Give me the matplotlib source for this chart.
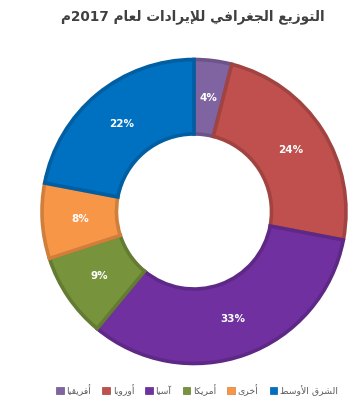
import re
import matplotlib
matplotlib.use("Agg")
import matplotlib.pyplot as plt
import matplotlib.colors as mcolors

# ---- data ----
title = "التوزيع الجغرافي للإيرادات لعام 2017م"
categories = ["أفريقيا", "أوروبا", "آسيا", "أمريكا", "أخرى", "الشرق الأوسط"]
values = [4, 24, 33, 9, 8, 22]
colors = ["#8064A2", "#C0504D", "#7030A0", "#77933C", "#F79646", "#0070C0"]

# ---- minimal Arabic shaping + bidi for display ----
FORMS = {
    '\u0627': (0xFE8D, 0xFE8E, None, None),
    '\u0623': (0xFE83, 0xFE84, None, None),
    '\u0625': (0xFE87, 0xFE88, None, None),
    '\u0622': (0xFE81, 0xFE82, None, None),
    '\u0628': (0xFE8F, 0xFE90, 0xFE91, 0xFE92),
    '\u062A': (0xFE95, 0xFE96, 0xFE97, 0xFE98),
    '\u062C': (0xFE9D, 0xFE9E, 0xFE9F, 0xFEA0),
    '\u062E': (0xFEA5, 0xFEA6, 0xFEA7, 0xFEA8),
    '\u062F': (0xFEA9, 0xFEAA, None, None),
    '\u0631': (0xFEAD, 0xFEAE, None, None),
    '\u0632': (0xFEAF, 0xFEB0, None, None),
    '\u0633': (0xFEB1, 0xFEB2, 0xFEB3, 0xFEB4),
    '\u0634': (0xFEB5, 0xFEB6, 0xFEB7, 0xFEB8),
    '\u0637': (0xFEC1, 0xFEC2, 0xFEC3, 0xFEC4),
    '\u0639': (0xFEC9, 0xFECA, 0xFECB, 0xFECC),
    '\u063A': (0xFECD, 0xFECE, 0xFECF, 0xFED0),
    '\u0641': (0xFED1, 0xFED2, 0xFED3, 0xFED4),
    '\u0642': (0xFED5, 0xFED6, 0xFED7, 0xFED8),
    '\u0643': (0xFED9, 0xFEDA, 0xFEDB, 0xFEDC),
    '\u0644': (0xFEDD, 0xFEDE, 0xFEDF, 0xFEE0),
    '\u0645': (0xFEE1, 0xFEE2, 0xFEE3, 0xFEE4),
    '\u0646': (0xFEE5, 0xFEE6, 0xFEE7, 0xFEE8),
    '\u0647': (0xFEE9, 0xFEEA, 0xFEEB, 0xFEEC),
    '\u0648': (0xFEED, 0xFEEE, None, None),
    '\u0649': (0xFEEF, 0xFEF0, None, None),
    '\u064A': (0xFEF1, 0xFEF2, 0xFEF3, 0xFEF4),
}
LAMALEF = {'\u0627': (0xFEFB, 0xFEFC), '\u0623': (0xFEF7, 0xFEF8),
           '\u0625': (0xFEF9, 0xFEFA), '\u0622': (0xFEF5, 0xFEF6)}


def _dual(c):
    return c in FORMS and FORMS[c][2] is not None


def shape(text):
    toks = []
    i = 0
    while i < len(text):
        c = text[i]
        if c == '\u0644' and i + 1 < len(text) and text[i + 1] in LAMALEF:
            toks.append(('LA', text[i + 1]))
            i += 2
        else:
            toks.append(('C', c))
            i += 1
    out = []
    for k, (kind, c) in enumerate(toks):
        prev = toks[k - 1] if k > 0 else None
        nxt = toks[k + 1] if k + 1 < len(toks) else None
        jp = prev is not None and prev[0] == 'C' and _dual(prev[1]) and (kind == 'LA' or c in FORMS)
        if kind == 'LA':
            out.append(chr(LAMALEF[c][1] if jp else LAMALEF[c][0]))
            continue
        if c not in FORMS:
            out.append(c)
            continue
        jn = _dual(c) and nxt is not None and (nxt[0] == 'LA' or nxt[1] in FORMS)
        f = FORMS[c]
        if jp and jn:
            out.append(chr(f[3]))
        elif jp:
            out.append(chr(f[1]))
        elif jn:
            out.append(chr(f[2]))
        else:
            out.append(chr(f[0]))
    vis = ''.join(out)[::-1]
    vis = re.sub(r'[0-9A-Za-z%.]+', lambda m: m.group(0)[::-1], vis)
    return vis


def darker(c, f=0.84):
    r, g, b = mcolors.to_rgb(c)
    return (r * f, g * f, b * f)


fig = plt.figure(figsize=(3.54, 4.19), dpi=100)
fig.patch.set_facecolor("white")

W, H = 354, 419
cx, cy, R = 194, 211.5, 152
ax = fig.add_axes([(cx - R) / W, (H - cy - R) / H, 2 * R / W, 2 * R / H])

wedges, _, autotexts = ax.pie(
    values, colors=colors, startangle=90, counterclock=False,
    radius=1.0, autopct=lambda p: f"{p:.0f}%", pctdistance=0.75,
    wedgeprops=dict(width=0.49, linewidth=2.6),
    textprops=dict(color="white", fontsize=7.5, fontweight="bold"))
for w, c in zip(wedges, colors):
    w.set_edgecolor(darker(c))
ax.set_xlim(-1, 1)
ax.set_ylim(-1, 1)
ax.set_aspect("equal")
ax.axis("off")

fig.text(193 / W, 1 - 17 / H, shape(title), ha="center", va="center",
         fontsize=9.8, fontweight="bold", color="#404040", family="DejaVu Sans")

handles = [plt.Rectangle((0, 0), 1, 1, facecolor=c, edgecolor=darker(c), linewidth=0.5)
           for c in colors]
leg = fig.legend(handles, [shape(c) for c in categories], loc="center",
                 bbox_to_anchor=(197 / W, 1 - 390 / H), ncol=6, frameon=False,
                 fontsize=6.7, handlelength=0.8, handleheight=0.8,
                 handletextpad=0.3, columnspacing=1.2, labelcolor="#595959")

fig.savefig("out.png", dpi=100, facecolor="white")
